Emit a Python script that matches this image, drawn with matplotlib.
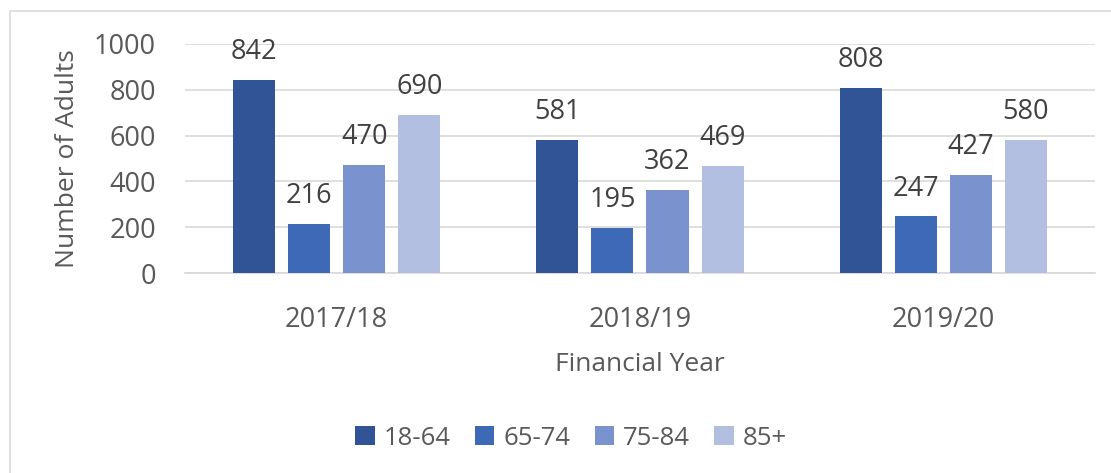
import numpy as np
import matplotlib.pyplot as plt
from matplotlib.patches import Rectangle

years = ['2017/18', '2018/19', '2019/20']
age_groups = ['18-64', '65-74', '75-84', '85+']
vals_18_64 = [842, 581, 808]
vals_65_74 = [216, 195, 247]
vals_75_84 = [470, 362, 427]
vals_85_plus = [690, 469, 580]
colors = ['#305496', '#3D69B7', '#7A92CE', '#B3BFE0']

plt.rcParams['font.family'] = ['Open Sans', 'DejaVu Sans']

fig = plt.figure(figsize=(11.11, 4.73), dpi=100)
ax = fig.add_axes([0.1665, 0.4228, 0.8191, 0.4842])

# chart border (light grey, runs off right/bottom edge)
fig.patches.append(Rectangle((10 / 1111, -0.1), 1.2, 1 - 11 / 473 + 0.1,
                             transform=fig.transFigure, fill=False,
                             edgecolor='#D9D9D9', linewidth=1.2))

x = np.arange(len(years))
width = 42 / 303
step = 55 / 303
series = [vals_18_64, vals_65_74, vals_75_84, vals_85_plus]
for i, (vals, lab) in enumerate(zip(series, age_groups)):
    pos = x + (i - 1.5) * step
    bars = ax.bar(pos, vals, width, color=colors[i], label=lab, zorder=3)
    for b, v in zip(bars, vals):
        ax.annotate(str(v), (b.get_x() + b.get_width() / 2, v), xytext=(0, 10),
                    textcoords='offset points', ha='center', va='bottom',
                    fontsize=19.5, color='#404040')

ax.set_xlim(-0.5, 2.5)
ax.set_ylim(0, 1000)
ax.set_yticks(range(0, 1001, 200))
ax.yaxis.grid(True, color='#D9D9D9', linewidth=1.2, zorder=0)
ax.set_axisbelow(True)
for s in ['top', 'right', 'left']:
    ax.spines[s].set_visible(False)
ax.spines['bottom'].set_color('#D9D9D9')
ax.spines['bottom'].set_linewidth(1.2)
ax.tick_params(length=0, labelsize=19.5, colors='#595959')
ax.tick_params(axis='x', pad=24)
ax.tick_params(axis='y', pad=21)
ax.set_xticks(x)
ax.set_xticklabels(years)
ax.set_xlabel('Financial Year', fontsize=19, color='#595959', labelpad=13)
ax.set_ylabel('Number of Adults', fontsize=19, color='#595959', labelpad=10)

fig.legend(loc='center', bbox_to_anchor=(571 / 1111, 1 - 438 / 473), ncol=4,
           frameon=False, fontsize=18.5, labelcolor='#595959',
           handlelength=0.75, handleheight=0.75, handletextpad=0.35, columnspacing=0.95)

fig.savefig('out.png', dpi=100)
